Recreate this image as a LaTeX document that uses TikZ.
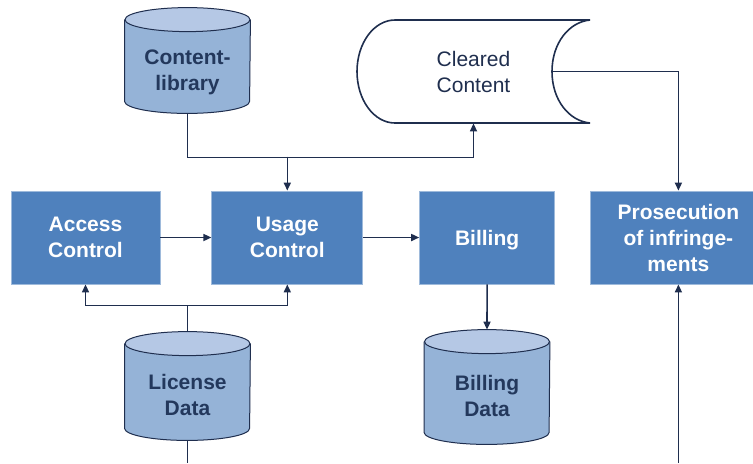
\documentclass[tikz,border=0pt]{standalone}
\usepackage{fontspec}
\setmainfont{Liberation Sans}
\usetikzlibrary{positioning,arrows.meta}

\definecolor{boxblue}{RGB}{79,129,189}
\definecolor{dbbody}{RGB}{149,179,215}
\definecolor{dbtop}{RGB}{181,200,229}
\definecolor{navy}{RGB}{31,46,78}
\definecolor{dbtext}{RGB}{35,56,92}

\tikzset{
 box/.style={rectangle,fill=boxblue,draw=boxblue!55!white,line width=0.4pt,text=white,font=\fontsize{10.5}{13}\selectfont\bfseries,align=center,minimum height=46.5pt,inner sep=0pt},
 db/.style={rectangle,minimum width=62.5pt,inner sep=0pt},
 dblabel/.style={text=dbtext,font=\fontsize{10.5}{13}\selectfont\bfseries,align=center},
 link/.style={draw=navy,line width=0.8pt,-{Triangle[length=4pt,width=3.5pt]}},
 line/.style={draw=navy,line width=0.8pt},
}

% cylinder drawn round a named node
\newcommand{\dbdraw}[1]{%
 \path[fill=dbbody,draw=navy,line width=0.5pt] ([yshift=-6pt]#1.north west) -- ([yshift=6pt]#1.south west)
   arc[start angle=180,end angle=360,x radius=31.25pt,y radius=6pt] -- ([yshift=-6pt]#1.north east);
 \path[fill=dbtop,draw=navy,line width=0.5pt] ([yshift=-6pt]#1.north) ellipse[x radius=31.25pt,y radius=6pt];
}

\begin{document}
\begin{tikzpicture}[x=0.5pt,y=-0.5pt]
 \useasboundingbox (0,0) rectangle (753,463);

 % processing steps
 \node[box,minimum width=74.5pt] (access) at (85.5,237.5) {Access\\Control};
 \node[box,minimum width=75.5pt] (usage) [right=25.5pt of access] {Usage\\Control};
 \node[box,minimum width=67.5pt,text depth=0pt] (billing) [right=28pt of usage] {Billing};
 \node[box,minimum width=88pt] (prosecution) [right=17.5pt of billing] {Prosecution\\of infringe-\\ments};

 % data stores
 \node[db,minimum height=52.5pt] (contentlib) at (187.5,60.5) {};
 \node[db,minimum height=54pt] (license) at (187.5,386) {};
 \node[db,minimum height=57pt] (billingdata) at (487,387) {};
 \dbdraw{contentlib}
 \dbdraw{license}
 \dbdraw{billingdata}
 \node[dblabel] (contentlibtext) at ([yshift=-6pt]contentlib.center) {Content-\\library};
 \node[dblabel] (licensetext) at ([yshift=-4.5pt]license.center) {License\\Data};
 \node[dblabel] (billingdatatext) at ([yshift=-4.5pt]billingdata.center) {Billing\\Data};

 % cleared content
 \node[minimum width=116.5pt,minimum height=51.5pt,inner sep=0pt,text=navy,font=\fontsize{10.5}{13}\selectfont,align=center] (cleared) at (473.5,71.5) {Cleared\\Content};
 \draw[line] (395,20) -- (590,20) .. controls (569,22) and (552,43) .. (552,71.5)
   .. controls (552,100) and (569,121) .. (590,123) -- (395,123)
   .. controls (374,123) and (357,100) .. (357,71.5)
   .. controls (357,43) and (374,20) .. cycle;
 \coordinate (clearedout) at (552,71.5);

 \coordinate (licenseout) at (187.5,463);
 \coordinate (prosecutionin) at (prosecution.south |- licenseout);

 \draw[link] (contentlib.south) -- ++(0,44) -| (cleared.south);
 \draw[link] ([yshift=17pt]usage.north) -- (usage.north);
 \draw[link] (access) -- (usage);
 \draw[link] (usage) -- (billing);
 \draw[link] (license.north) -- ++(0,-26) -| (access.south);
 \draw[link] ([yshift=13pt]license.north) -| (usage.south);
 \draw[line] (license.south) -- (licenseout);
 \draw[link] (billing.south) -- (billingdata.north);
 \draw[link] (clearedout) -| (prosecution.north);
 \draw[link] (prosecutionin) -- (prosecution.south);
\end{tikzpicture}
\end{document}
